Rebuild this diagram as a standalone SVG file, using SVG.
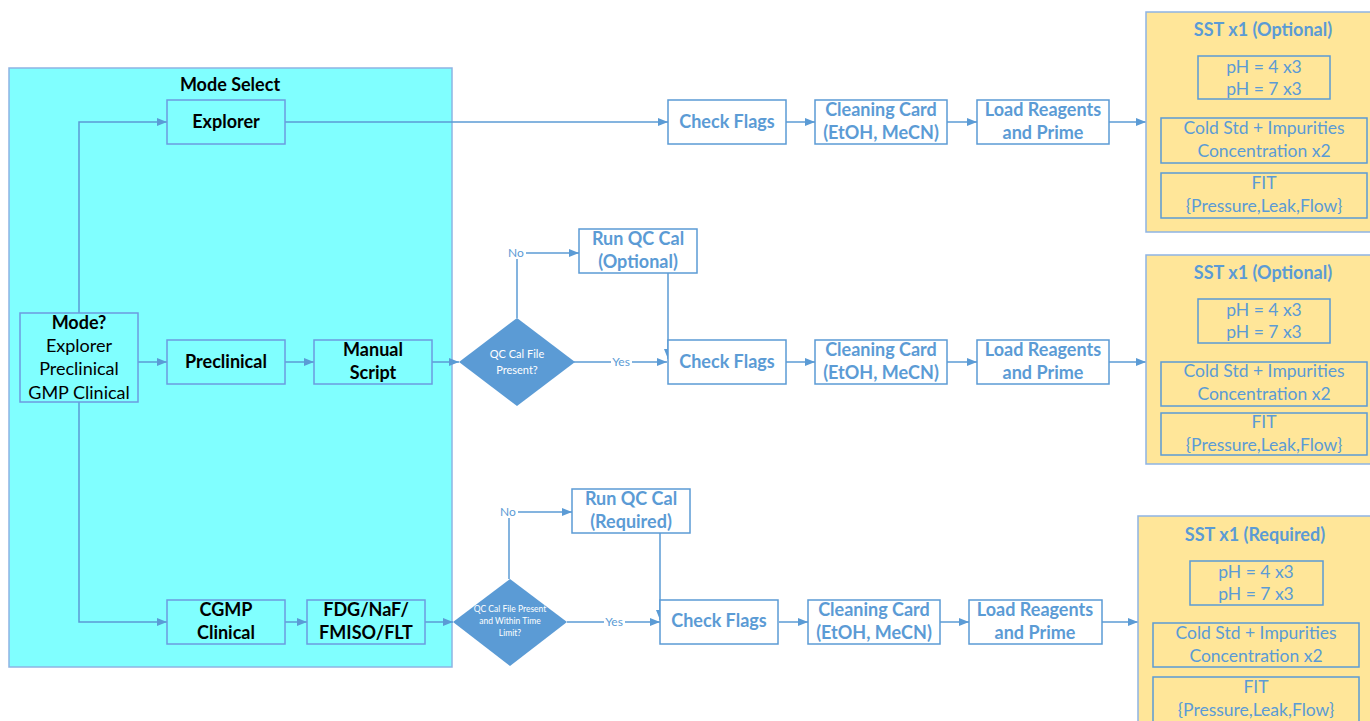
<svg xmlns="http://www.w3.org/2000/svg" width="1370" height="721" viewBox="0 0 1370 721">
<defs>
<marker id="ah" markerWidth="10" markerHeight="8" refX="10" refY="4" orient="auto" markerUnits="userSpaceOnUse">
<path d="M0,0 L10,4 L0,8 Z" fill="#5B9BD5"/>
</marker>
<style>
text{font-family:Lato,"Open Sans","Liberation Sans",sans-serif;text-anchor:middle;dominant-baseline:central}
.lb{fill:none;stroke:#6C9BE0;stroke-width:1.5}
.wb{fill:#fff;stroke:#5B9BD5;stroke-width:1.5}
.yb{fill:#FFE699;stroke:#8EB4E3;stroke-width:1.5}
.ib{fill:none;stroke:#5B9BD5;stroke-width:1.5}
.dk{font-size:18px;font-weight:bold;fill:#000}
.dn{font-size:18px;fill:#000}
.bt{font-size:18px;font-weight:bold;fill:#5B9BD5}
.nt{font-size:17.5px;fill:#5B9BD5}
.sm{font-size:12px;fill:#5B9BD5}
.dt{font-size:11px;fill:#fff}
.dt2{font-size:8.5px;fill:#fff}
.c{fill:none;stroke:#5B9BD5;stroke-width:1.5}
.ca{fill:none;stroke:#5B9BD5;stroke-width:1.5;marker-end:url(#ah)}
</style>
</defs>
<rect width="1370" height="721" fill="#fff"/>

<g id="mode-select">
<rect x="9" y="68" width="443" height="599" fill="#80FFFF" stroke="#8EB4E3" stroke-width="1.5"/>
<text x="230" y="84" class="dk">Mode Select</text>
</g>

<g id="connectors">
<path class="ca" d="M79,313 V122 H167"/>
<path class="ca" d="M138,362 H167"/>
<path class="ca" d="M285,362 H314"/>
<path class="ca" d="M432,362 H459"/>
<path class="ca" d="M79,402 V622 H167"/>
<path class="ca" d="M285,622 H307"/>
<path class="ca" d="M425,622 H453"/>
<path class="ca" d="M285,122 H668"/>
<path class="ca" d="M786,122 H815"/>
<path class="ca" d="M947,122 H977"/>
<path class="ca" d="M1109,122 H1146"/>
<path class="ca" d="M1263,99 V118"/>
<path class="ca" d="M1263,163 V173"/>
<path class="c" d="M517,318 V259"/>
<path class="ca" d="M526,253 H579"/>
<path class="c" d="M574,362 H611"/>
<path class="ca" d="M632,362 H667"/>
<path class="ca" d="M668,273 V359"/>
<path class="ca" d="M786,362 H815"/>
<path class="ca" d="M947,362 H977"/>
<path class="ca" d="M1109,362 H1146"/>
<path class="ca" d="M1263,343 V362"/>
<path class="ca" d="M1263,406 V413"/>
<path class="c" d="M509,579 V518"/>
<path class="ca" d="M518,512 H572"/>
<path class="c" d="M567,622 H604"/>
<path class="ca" d="M625,622 H660"/>
<path class="ca" d="M660,533 V620"/>
<path class="ca" d="M779,622 H808"/>
<path class="ca" d="M940,622 H969"/>
<path class="ca" d="M1102,622 H1138"/>
<path class="ca" d="M1256,605 V623"/>
<path class="ca" d="M1256,667 V677"/>
<text x="516" y="252" class="sm">No</text>
<text x="621" y="361" class="sm">Yes</text>
<text x="508" y="511" class="sm">No</text>
<text x="614" y="621" class="sm">Yes</text>
</g>

<g id="n-mode"><rect x="20" y="313" width="118" height="89" class="lb"/>
<text x="79" y="322" class="dk">Mode?</text><text x="79" y="345" class="dn">Explorer</text><text x="79" y="368" class="dn">Preclinical</text><text x="79" y="392" class="dn">GMP Clinical</text></g>
<g id="n-explorer"><rect x="167" y="100" width="118" height="44" class="lb"/><text x="226" y="121" class="dk">Explorer</text></g>
<g id="n-preclinical"><rect x="167" y="340" width="118" height="44" class="lb"/><text x="226" y="361" class="dk">Preclinical</text></g>
<g id="n-manual"><rect x="314" y="340" width="118" height="44" class="lb"/><text x="373" y="349" class="dk">Manual</text><text x="373" y="372" class="dk">Script</text></g>
<g id="n-cgmp"><rect x="167" y="600" width="118" height="44" class="lb"/><text x="226" y="609" class="dk">CGMP</text><text x="226" y="632" class="dk">Clinical</text></g>
<g id="n-fdg"><rect x="307" y="600" width="118" height="44" class="lb"/><text x="366" y="609" class="dk">FDG/NaF/</text><text x="366" y="632" class="dk">FMISO/FLT</text></g>

<!-- row 1 -->
<g id="r1-check"><rect x="668" y="100" width="118" height="44" class="wb"/><text x="727" y="121" class="bt">Check Flags</text></g>
<g id="r1-clean"><rect x="815" y="100" width="132" height="44" class="wb"/><text x="881" y="109" class="bt">Cleaning Card</text><text x="881" y="132" class="bt">(EtOH, MeCN)</text></g>
<g id="r1-load"><rect x="977" y="100" width="132" height="44" class="wb"/><text x="1043" y="109" class="bt">Load Reagents</text><text x="1043" y="132" class="bt">and Prime</text></g>
<g id="r1-sst"><rect x="1146" y="12" width="230" height="220" class="yb"/>
<text x="1263" y="29" class="bt">SST x1 (Optional)</text>
<rect x="1198" y="56" width="132" height="43" class="ib"/><text x="1264" y="66" class="nt">pH = 4 x3</text><text x="1264" y="88" class="nt">pH = 7 x3</text>
<rect x="1161" y="118" width="206" height="45" class="ib"/><text x="1264" y="127" class="nt">Cold Std + Impurities</text><text x="1264" y="150" class="nt">Concentration x2</text>
<rect x="1161" y="173" width="206" height="45" class="ib"/><text x="1264" y="182" class="nt">FIT</text><text x="1264" y="205" class="nt">{Pressure,Leak,Flow}</text></g>

<!-- row 2 -->
<g id="r2-diamond"><path d="M517,318 L575,362 L517,406 L459,362 Z" fill="#5B9BD5"/><text x="517" y="353" class="dt">QC Cal File</text><text x="517" y="369" class="dt">Present?</text></g>
<g id="r2-qccal"><rect x="579" y="229" width="118" height="44" class="wb"/><text x="638" y="238" class="bt">Run QC Cal</text><text x="638" y="261" class="bt">(Optional)</text></g>
<g id="r2-check"><rect x="668" y="340" width="118" height="44" class="wb"/><text x="727" y="361" class="bt">Check Flags</text></g>
<g id="r2-clean"><rect x="815" y="340" width="132" height="44" class="wb"/><text x="881" y="349" class="bt">Cleaning Card</text><text x="881" y="372" class="bt">(EtOH, MeCN)</text></g>
<g id="r2-load"><rect x="977" y="340" width="132" height="44" class="wb"/><text x="1043" y="349" class="bt">Load Reagents</text><text x="1043" y="372" class="bt">and Prime</text></g>
<g id="r2-sst"><rect x="1146" y="255" width="230" height="209" class="yb"/>
<text x="1263" y="272" class="bt">SST x1 (Optional)</text>
<rect x="1198" y="299" width="132" height="44" class="ib"/><text x="1264" y="309" class="nt">pH = 4 x3</text><text x="1264" y="331" class="nt">pH = 7 x3</text>
<rect x="1161" y="362" width="206" height="44" class="ib"/><text x="1264" y="370" class="nt">Cold Std + Impurities</text><text x="1264" y="393" class="nt">Concentration x2</text>
<rect x="1161" y="413" width="206" height="42" class="ib"/><text x="1264" y="421" class="nt">FIT</text><text x="1264" y="444" class="nt">{Pressure,Leak,Flow}</text></g>

<!-- row 3 -->
<g id="r3-diamond"><path d="M510,579 L567,622 L510,666 L453,622 Z" fill="#5B9BD5"/><text x="510" y="609" class="dt2">QC Cal File Present</text><text x="510" y="621" class="dt2">and Within Time</text><text x="510" y="633" class="dt2">Limit?</text></g>
<g id="r3-qccal"><rect x="572" y="489" width="118" height="44" class="wb"/><text x="631" y="498" class="bt">Run QC Cal</text><text x="631" y="521" class="bt">(Required)</text></g>
<g id="r3-check"><rect x="660" y="600" width="118" height="44" class="wb"/><text x="719" y="620" class="bt">Check Flags</text></g>
<g id="r3-clean"><rect x="808" y="600" width="132" height="44" class="wb"/><text x="874" y="609" class="bt">Cleaning Card</text><text x="874" y="632" class="bt">(EtOH, MeCN)</text></g>
<g id="r3-load"><rect x="969" y="600" width="133" height="44" class="wb"/><text x="1035" y="609" class="bt">Load Reagents</text><text x="1035" y="632" class="bt">and Prime</text></g>
<g id="r3-sst"><rect x="1138" y="516" width="240" height="220" class="yb"/>
<text x="1255" y="534" class="bt">SST x1 (Required)</text>
<rect x="1190" y="561" width="133" height="44" class="ib"/><text x="1256" y="571" class="nt">pH = 4 x3</text><text x="1256" y="593" class="nt">pH = 7 x3</text>
<rect x="1153" y="623" width="206" height="44" class="ib"/><text x="1256" y="632" class="nt">Cold Std + Impurities</text><text x="1256" y="655" class="nt">Concentration x2</text>
<rect x="1153" y="677" width="206" height="50" class="ib"/><text x="1256" y="686" class="nt">FIT</text><text x="1256" y="709" class="nt">{Pressure,Leak,Flow}</text></g>
</svg>
